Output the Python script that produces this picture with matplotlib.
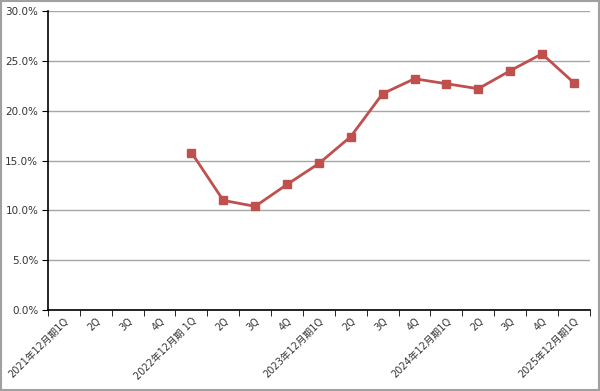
import matplotlib
matplotlib.use("Agg")
import matplotlib.pyplot as plt
import numpy as np

categories = ["2021年12月期1Q", "2Q", "3Q", "4Q",
              "2022年12月期 1Q", "2Q", "3Q", "4Q",
              "2023年12月期1Q", "2Q", "3Q", "4Q",
              "2024年12月期1Q", "2Q", "3Q", "4Q",
              "2025年12月期1Q"]
values = [np.nan, np.nan, np.nan, np.nan,
          15.8, 11.0, 10.4, 12.6,
          14.7, 17.4, 21.7, 23.2,
          22.7, 22.2, 24.0, 25.7,
          22.8]
yticks = [0, 5, 10, 15, 20, 25, 30]

plt.rcParams['font.family'] = ['DejaVu Sans', 'Noto Sans CJK JP']

fig = plt.figure(figsize=(6, 3.91), dpi=100)
ax = fig.add_axes([0.08, 0.207, 0.903, 0.765])

x = np.arange(len(categories))
ax.plot(x, values, color='#C0504D', linewidth=2, marker='s', markersize=5.5,
        markeredgecolor='#C0504D', markerfacecolor='#C0504D', zorder=3)

ax.set_xlim(-0.5, len(categories) - 0.5)
ax.set_ylim(0, 30)
ax.set_yticks(yticks)
ax.set_yticklabels([f"{v:.1f}%" for v in yticks], fontsize=7.5, color='#333333')
ax.yaxis.grid(True, color='#A6A6A6', linewidth=1)
ax.set_axisbelow(True)

ax.set_xticks(x)
ax.set_xticklabels(categories, fontsize=7, rotation=45, ha='right',
                   rotation_mode='anchor', color='#333333')
ax.tick_params(axis='x', which='major', length=0, pad=4)
ax.set_xticks(np.arange(-0.5, len(categories), 1), minor=True)
ax.tick_params(axis='x', which='minor', length=4, direction='out', color='black')
ax.tick_params(axis='y', length=4, direction='out', color='black', pad=3)

for s in ['top', 'right']:
    ax.spines[s].set_visible(False)
ax.spines['left'].set_color('black')
ax.spines['bottom'].set_color('black')
ax.spines['left'].set_linewidth(1.2)
ax.spines['bottom'].set_linewidth(1.2)

# figure border
fig.patches.append(plt.Rectangle((0.002, 0.002), 0.996, 0.996, transform=fig.transFigure,
                                 fill=False, edgecolor='#A0A0A0', linewidth=1.5))

fig.savefig("out.png", dpi=100)
